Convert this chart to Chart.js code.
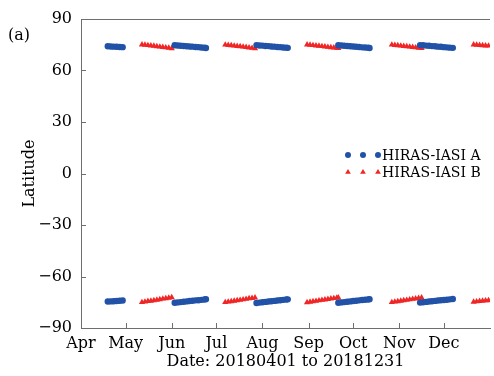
<!DOCTYPE html>
<html>
<head>
<meta charset="utf-8">
<script src="https://cdn.jsdelivr.net/npm/chart.js@4.4.1/dist/chart.umd.min.js"></script>
<style>
  html, body { margin: 0; padding: 0; background: #fff; overflow: hidden; }
  #wrap { width: 494px; height: 376px; position: relative; }
</style>
</head>
<body>
<div id="wrap"><canvas id="chart"></canvas></div>
<script>
// days counted from 2018-04-01
var monthDays = [0, 30, 61, 91, 122, 153, 183, 214, 244];
var monthLabels = ['Apr', 'May', 'Jun', 'Jul', 'Aug', 'Sep', 'Oct', 'Nov', 'Dec'];
var latTicks = [-90, -60, -30, 0, 30, 60, 90];

// HIRAS-IASI A matchups
var blueDays = [
  18, 20, 22, 24, 26, 28,
  63, 65, 67, 69, 71, 73, 75, 77, 79, 81, 83, 84,
  118, 120, 122, 124, 126, 128, 130, 132, 134, 136, 138, 139,
  173, 175, 177, 179, 181, 183, 185, 187, 189, 191, 193, 194,
  228, 230, 232, 234, 236, 238, 240, 242, 244, 246, 248, 250
];
var blueNorth = [
  74.1, 74.0, 73.9, 73.8, 73.7, 73.6,
  74.7, 74.6, 74.4, 74.3, 74.1, 74.0, 73.9, 73.7, 73.6, 73.4, 73.3, 73.1,
  74.8, 74.6, 74.5, 74.3, 74.2, 74.0, 73.9, 73.7, 73.6, 73.4, 73.3, 73.2,
  74.7, 74.6, 74.4, 74.3, 74.1, 74.0, 73.8, 73.7, 73.5, 73.4, 73.3, 73.1,
  74.8, 74.7, 74.5, 74.4, 74.2, 74.1, 73.9, 73.8, 73.6, 73.5, 73.3, 73.2
];
var blueSouth = [
  -74.6, -74.5, -74.4, -74.3, -74.1, -74.0,
  -75.3, -75.1, -74.9, -74.7, -74.5, -74.3, -74.1, -73.9, -73.8, -73.6, -73.4, -73.2,
  -75.4, -75.2, -75.0, -74.8, -74.6, -74.4, -74.2, -74.0, -73.8, -73.6, -73.4, -73.3,
  -75.3, -75.1, -74.9, -74.7, -74.5, -74.3, -74.1, -73.9, -73.7, -73.5, -73.4, -73.2,
  -75.2, -75.0, -74.8, -74.6, -74.4, -74.2, -74.0, -73.8, -73.7, -73.5, -73.3, -73.1
];

// HIRAS-IASI B matchups
var redDays = [
  41, 43, 45, 47, 49, 51, 53, 55, 57, 59, 61,
  97, 99, 101, 103, 105, 107, 109, 111, 113, 115, 117,
  152, 154, 156, 158, 160, 162, 164, 166, 168, 170, 172, 173,
  209, 211, 213, 215, 217, 219, 221, 223, 225, 227, 229,
  264, 266, 268, 270, 272, 274
];
var redNorth = [
  75.1, 74.9, 74.7, 74.5, 74.3, 74.0, 73.8, 73.6, 73.4, 73.2, 72.9,
  75.0, 74.8, 74.6, 74.4, 74.2, 74.0, 73.8, 73.6, 73.3, 73.1, 72.9,
  75.1, 74.9, 74.7, 74.5, 74.3, 74.1, 73.9, 73.7, 73.5, 73.3, 73.1, 73.0,
  75.0, 74.8, 74.6, 74.4, 74.2, 74.0, 73.8, 73.6, 73.4, 73.2, 73.0,
  75.1, 74.9, 74.8, 74.6, 74.5, 74.4
];
var redSouth = [
  -75.0, -74.7, -74.4, -74.2, -73.9, -73.6, -73.3, -73.0, -72.8, -72.5, -72.2,
  -75.0, -74.7, -74.5, -74.2, -73.9, -73.7, -73.4, -73.1, -72.8, -72.6, -72.3,
  -75.1, -74.8, -74.5, -74.3, -74.0, -73.7, -73.5, -73.2, -72.9, -72.7, -72.4, -72.3,
  -75.0, -74.7, -74.5, -74.2, -73.9, -73.7, -73.4, -73.1, -72.9, -72.6, -72.3,
  -74.8, -74.6, -74.4, -74.2, -74.0, -73.9
];

var BLUE = 'rgb(33, 82, 168)';
var RED = 'rgb(240, 38, 38)';
var AXIS = '#6e6e6e';
var SERIF = '"DejaVu Serif", serif';

function points(days, lats) {
  return days.map(function (d, i) { return { x: d, y: lats[i] }; });
}

function fmtLat(v) {
  return v < 0 ? '\u2212' + Math.abs(v) : String(v);
}

// marker shapes for the legend
function drawMarker(ctx, style, x, y, r, color) {
  ctx.save();
  ctx.fillStyle = color;
  ctx.beginPath();
  if (style === 'triangle') {
    ctx.moveTo(x, y - r);
    ctx.lineTo(x + r * 0.95, y + r * 0.6);
    ctx.lineTo(x - r * 0.95, y + r * 0.6);
    ctx.closePath();
  } else {
    ctx.arc(x, y, r, 0, Math.PI * 2);
  }
  ctx.fill();
  ctx.restore();
}

var frame = {
  id: 'frame',
  afterDraw: function (chart) {
    var ctx = chart.ctx;
    var area = chart.chartArea;
    var xs = chart.scales.x;
    var ys = chart.scales.y;
    ctx.save();
    ctx.strokeStyle = AXIS;
    ctx.lineWidth = 1;
    ctx.beginPath();
    // top edge of the box
    ctx.moveTo(area.left, Math.round(area.top) + 0.5);
    ctx.lineTo(area.right, Math.round(area.top) + 0.5);
    // inward ticks
    monthDays.forEach(function (d) {
      var px = Math.round(xs.getPixelForValue(d)) + 0.5;
      ctx.moveTo(px, area.bottom);
      ctx.lineTo(px, area.bottom - 5);
    });
    latTicks.forEach(function (v) {
      var py = Math.round(ys.getPixelForValue(v)) + 0.5;
      ctx.moveTo(area.left, py);
      ctx.lineTo(area.left + 5, py);
    });
    ctx.stroke();

    // panel tag
    ctx.fillStyle = '#000';
    ctx.font = '16px ' + SERIF;
    ctx.textBaseline = 'middle';
    ctx.textAlign = 'left';
    ctx.fillText('(a)', 8, 36);

    // legend, three markers per entry
    var rows = [
      { label: 'HIRAS-IASI A', style: 'circle', color: BLUE, y: 155 },
      { label: 'HIRAS-IASI B', style: 'triangle', color: RED, y: 172 }
    ];
    ctx.font = '14px ' + SERIF;
    rows.forEach(function (row) {
      [348, 363, 378].forEach(function (mx) {
        drawMarker(ctx, row.style, mx, row.y, 3, row.color);
      });
      ctx.fillStyle = '#000';
      ctx.fillText(row.label, 382, row.y + 1);
    });
    ctx.restore();
  }
};

var ctx = document.getElementById('chart').getContext('2d');
var chart = new Chart(ctx, {
  type: 'scatter',
  data: {
    datasets: [
      { label: 'HIRAS-IASI A', data: points(blueDays, blueNorth), pointStyle: 'circle', pointRadius: 3.2, backgroundColor: BLUE, borderWidth: 0 },
      { label: 'HIRAS-IASI A', data: points(blueDays, blueSouth), pointStyle: 'circle', pointRadius: 3.2, backgroundColor: BLUE, borderWidth: 0 },
      { label: 'HIRAS-IASI B', data: points(redDays, redNorth), pointStyle: 'triangle', pointRadius: 3.6, backgroundColor: RED, borderWidth: 0 },
      { label: 'HIRAS-IASI B', data: points(redDays, redSouth), pointStyle: 'triangle', pointRadius: 3.6, backgroundColor: RED, borderWidth: 0 }
    ]
  },
  options: {
    responsive: true,
    maintainAspectRatio: false,
    animation: false,
    devicePixelRatio: 1,
    layout: { padding: { top: 19, right: 0, bottom: 0, left: 0 } },
    plugins: {
      legend: { display: false },
      tooltip: { enabled: false }
    },
    scales: {
      x: {
        type: 'linear',
        min: 0,
        max: 275,
        afterBuildTicks: function (scale) {
          scale.ticks = monthDays.map(function (d) { return { value: d }; });
        },
        afterFit: function (scale) { scale.height = 48; },
        grid: { display: false, drawTicks: false, tickLength: 0 },
        border: { display: true, color: AXIS, width: 1 },
        ticks: {
          autoSkip: false,
          maxRotation: 0,
          padding: 6,
          color: '#000',
          font: { family: SERIF, size: 16 },
          callback: function (v) {
            var i = monthDays.indexOf(v);
            return i >= 0 ? monthLabels[i] : '';
          }
        },
        title: {
          display: true,
          text: 'Date: 20180401 to 20181231',
          color: '#000',
          font: { family: SERIF, size: 16 },
          padding: { top: 0, bottom: 5 }
        }
      },
      y: {
        min: -90,
        max: 90,
        afterBuildTicks: function (scale) {
          scale.ticks = latTicks.map(function (v) { return { value: v }; });
        },
        afterFit: function (scale) { scale.width = 81; },
        grid: { display: false, drawTicks: false, tickLength: 0 },
        border: { display: true, color: AXIS, width: 1 },
        ticks: {
          padding: 9,
          color: '#000',
          font: { family: SERIF, size: 16 },
          callback: function (v) { return fmtLat(v); }
        },
        title: {
          display: true,
          text: 'Latitude',
          color: '#000',
          font: { family: SERIF, size: 16 },
          padding: { top: 20, bottom: 0 }
        }
      }
    }
  },
  plugins: [frame]
});
</script>
</body>
</html>
